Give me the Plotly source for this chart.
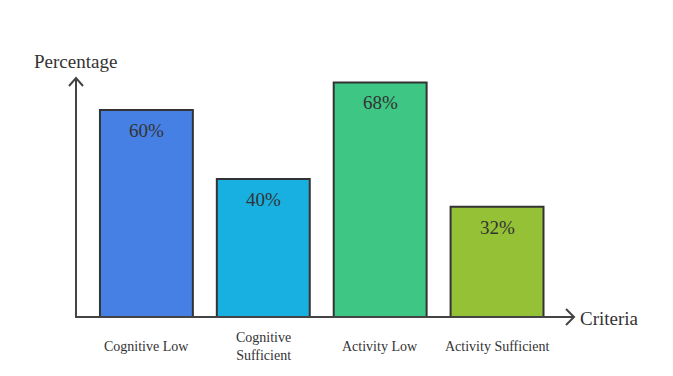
import plotly.graph_objects as go

categories = ["Cognitive Low", "Cognitive Sufficient", "Activity Low", "Activity Sufficient"]
tick_labels = ["Cognitive Low", "Cognitive<br>Sufficient", "Activity Low", "Activity Sufficient"]
values = [60, 40, 68, 32]
value_labels = ["60%", "40%", "68%", "32%"]
colors = ["#4680E4", "#18B0E1", "#3DC684", "#94C135"]

W, H = 673, 376
OFF = 8  # page body margin
# plot area in page coords: x 75..575, y 78..317
L = 75 - OFF
T = 78 - OFF
B = H - (317 - OFF)
R = W - (575 - OFF)
PW, PH = W - L - R, H - T - B

def px(x):
    return (x - OFF - L) / PW

def py(y):
    return (H - B - (y - OFF)) / PH

fig = go.Figure()
fig.add_trace(go.Bar(
    x=list(range(len(categories))), y=values,
    marker=dict(color=colors, line=dict(color="#333333", width=2)),
    hoverinfo="skip", width=0.795,
))

ann = []
for i, (v, t) in enumerate(zip(values, value_labels)):
    ann.append(dict(x=i, y=v, xref="x", yref="y", text=t, showarrow=False,
                    yanchor="top", yshift=-8,
                    font=dict(family="Liberation Serif", size=19, color="#333333")))
for i, t in enumerate(tick_labels):
    ann.append(dict(x=i, y=py(346), xref="x", yref="paper", text=t, showarrow=False,
                    yanchor="middle", xanchor="center",
                    font=dict(family="Liberation Serif", size=14, color="#333333")))
ann.append(dict(x=px(34), y=py(61), xref="paper", yref="paper", text="Percentage",
                showarrow=False, xanchor="left", yanchor="middle", xshift=-2,
                font=dict(family="Liberation Serif", size=19, color="#333333")))
ann.append(dict(x=px(580), y=py(318), xref="paper", yref="paper", text="Criteria",
                showarrow=False, xanchor="left", yanchor="middle", xshift=-2,
                font=dict(family="Liberation Serif", size=19, color="#333333")))

lc = dict(color="#444444", width=2)
shapes = [
    dict(type="line", xref="paper", yref="paper", x0=px(76), y0=py(317), x1=px(76), y1=py(78), line=lc),
    dict(type="line", xref="paper", yref="paper", x0=px(75), y0=py(317), x1=px(573), y1=py(317), line=lc),
    dict(type="path", xref="paper", yref="paper",
         path=f"M {px(69)},{py(86)} L {px(76)},{py(78)} L {px(83)},{py(86)}", line=lc),
    dict(type="path", xref="paper", yref="paper",
         path=f"M {px(566)},{py(309)} L {px(574)},{py(317)} L {px(566)},{py(325)}", line=lc),
]

fig.update_layout(
    width=W, height=H, margin=dict(l=L, r=R, t=T, b=B),
    paper_bgcolor="white", plot_bgcolor="white",
    xaxis=dict(range=[-0.611, 3.667], showticklabels=False, showgrid=False,
               zeroline=False, showline=False, fixedrange=True),
    yaxis=dict(range=[0, 69.3], showticklabels=False, showgrid=False,
               zeroline=False, showline=False, fixedrange=True),
    annotations=ann, shapes=shapes, showlegend=False, bargap=0.2,
)
fig.write_html("out.html")
